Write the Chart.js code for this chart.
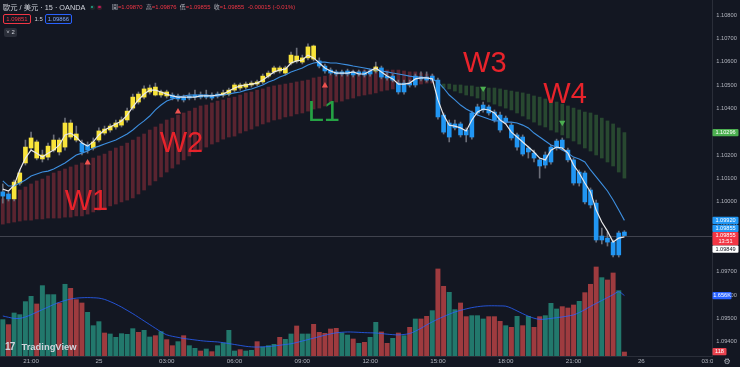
<!DOCTYPE html>
<html>
<head>
<meta charset="utf-8">
<title>歐元 / 美元 · 15 · OANDA</title>
<script src="https://cdn.jsdelivr.net/npm/chart.js"></script>
<style>
  body { margin: 0; background: #131722; }
  #wrap { position: relative; width: 740px; height: 367px; overflow: hidden;
          font-family: "Liberation Sans", "Noto Sans CJK TC", sans-serif; }
  #chart { position: absolute; left: 0; top: 0; }
  .t { position: absolute; white-space: nowrap; line-height: 1; }
  .box { position: absolute; box-sizing: border-box; border-radius: 2px; font-size: 5.9px;
         display: flex; align-items: center; justify-content: center; }
</style>
</head>
<body>
<div id="wrap">
  <canvas id="chart" width="740" height="367"></canvas>
  <div class="t" style="left:3px;top:3.5px;font-size:7.3px;color:#d1d4dc">歐元 / 美元 · 15 · OANDA</div>
  <div class="t" style="left:89.5px;top:4.5px;width:5px;height:5px;border-radius:50%;background:#1b2a2a"></div>
  <div class="t" style="left:90.7px;top:5.7px;width:2.6px;height:2.6px;border-radius:50%;background:#22ab94"></div>
  <div class="t" style="left:97px;top:4.5px;width:5px;height:5px;border-radius:50%;background:#3a1f2a"></div>
  <div class="t" style="left:98.2px;top:5.7px;width:2.6px;height:2.6px;border-radius:50%;background:#c2185b"></div>
  <div class="t" id="ohlc" style="left:112px;top:4.5px;font-size:5.9px;color:#b2b5be"></div>
  <div class="box" id="bid" style="left:3px;top:14px;width:28px;height:10px;border:1px solid #f23645;color:#f23645"></div>
  <div class="t" id="spread" style="left:34.5px;top:16.5px;font-size:5.9px;color:#d1d4dc"></div>
  <div class="box" id="ask" style="left:45px;top:14px;width:27px;height:10px;border:1px solid #2962ff;color:#7fa8ff"></div>
  <div class="box" style="left:4px;top:27.5px;width:13px;height:9px;background:#2a2e39;color:#d1d4dc">˅ 2</div>
  <div class="t" style="left:5px;top:341.5px;font-size:10px;font-weight:bold;color:#d1d4dc;letter-spacing:-0.8px">17</div>
  <div class="t" style="left:21.5px;top:342px;font-size:9.4px;font-weight:bold;color:#d1d4dc">TradingView</div>
</div>
<script>
// ---- price bars (15 min, 24 19:45 -> 25 23:15) ----
var opens = [1.10024,1.10033,1.10012,1.10080,1.10166,1.10230,1.10256,1.10183,1.10191,1.10221,
  1.10264,1.10234,1.10337,1.10290,1.10251,1.10221,1.10230,1.10264,1.10311,1.10307,
  1.10320,1.10328,1.10350,1.10401,1.10461,1.10448,1.10470,1.10491,1.10457,1.10470,
  1.10457,1.10440,1.10448,1.10444,1.10448,1.10457,1.10448,1.10457,1.10453,1.10457,
  1.10461,1.10478,1.10500,1.10491,1.10500,1.10513,1.10513,1.10538,1.10556,1.10573,
  1.10551,1.10594,1.10624,1.10598,1.10616,1.10667,1.10603,1.10581,1.10564,1.10556,
  1.10547,1.10547,1.10556,1.10547,1.10556,1.10547,1.10560,1.10573,1.10538,1.10521,
  1.10508,1.10470,1.10508,1.10500,1.10534,1.10534,1.10521,1.10521,1.10371,1.10277,
  1.10316,1.10333,1.10307,1.10277,1.10380,1.10393,1.10406,1.10384,1.10371,1.10341,
  1.10328,1.10234,1.10277,1.10213,1.10208,1.10179,1.10157,1.10170,1.10230,1.10264,
  1.10221,1.10179,1.10080,1.10123,1.10050,1.09994,1.09836,1.09844,1.09827,1.09772,
  1.09870];
var highs = [1.10076,1.10042,1.10093,1.10136,1.10264,1.10298,1.10264,1.10221,1.10251,1.10286,
  1.10273,1.10358,1.10350,1.10324,1.10264,1.10256,1.10273,1.10316,1.10324,1.10333,
  1.10350,1.10363,1.10401,1.10461,1.10470,1.10496,1.10500,1.10508,1.10478,1.10478,
  1.10466,1.10461,1.10457,1.10466,1.10478,1.10470,1.10478,1.10466,1.10470,1.10478,
  1.10487,1.10508,1.10508,1.10513,1.10517,1.10521,1.10547,1.10560,1.10581,1.10581,
  1.10581,1.10641,1.10658,1.10628,1.10676,1.10671,1.10616,1.10590,1.10573,1.10564,
  1.10564,1.10568,1.10564,1.10564,1.10564,1.10568,1.10598,1.10581,1.10556,1.10547,
  1.10521,1.10521,1.10521,1.10547,1.10556,1.10556,1.10547,1.10530,1.10380,1.10350,
  1.10350,1.10341,1.10316,1.10388,1.10418,1.10427,1.10414,1.10393,1.10384,1.10367,
  1.10337,1.10294,1.10286,1.10238,1.10221,1.10187,1.10213,1.10243,1.10268,1.10273,
  1.10230,1.10187,1.10136,1.10131,1.10059,1.10007,1.09887,1.09870,1.09836,1.09874,
  1.09876];
var lows = [1.09994,1.10003,1.10003,1.10071,1.10157,1.10221,1.10179,1.10170,1.10179,1.10213,
  1.10200,1.10221,1.10268,1.10256,1.10200,1.10208,1.10221,1.10256,1.10286,1.10298,
  1.10311,1.10320,1.10341,1.10393,1.10418,1.10440,1.10461,1.10453,1.10448,1.10444,
  1.10436,1.10431,1.10427,1.10436,1.10436,1.10440,1.10440,1.10436,1.10444,1.10448,
  1.10453,1.10470,1.10478,1.10483,1.10491,1.10496,1.10504,1.10530,1.10547,1.10551,
  1.10543,1.10586,1.10594,1.10590,1.10607,1.10603,1.10573,1.10551,1.10543,1.10538,
  1.10538,1.10538,1.10534,1.10538,1.10534,1.10538,1.10551,1.10526,1.10521,1.10513,
  1.10461,1.10461,1.10491,1.10491,1.10517,1.10513,1.10513,1.10354,1.10290,1.10256,
  1.10307,1.10277,1.10256,1.10268,1.10371,1.10384,1.10371,1.10341,1.10298,1.10333,
  1.10264,1.10221,1.10196,1.10187,1.10170,1.10101,1.10144,1.10161,1.10221,1.10221,
  1.10170,1.10071,1.10067,1.09990,1.09973,1.09827,1.09819,1.09810,1.09763,1.09763,
  1.09855];
var closes = [1.10042,1.10012,1.10084,1.10123,1.10234,1.10273,1.10187,1.10200,1.10238,1.10264,
  1.10213,1.10337,1.10277,1.10264,1.10213,1.10243,1.10256,1.10303,1.10294,1.10324,
  1.10337,1.10350,1.10388,1.10448,1.10427,1.10483,1.10487,1.10457,1.10470,1.10453,
  1.10444,1.10453,1.10436,1.10453,1.10457,1.10448,1.10457,1.10444,1.10461,1.10466,
  1.10478,1.10500,1.10487,1.10504,1.10508,1.10504,1.10538,1.10551,1.10573,1.10560,
  1.10573,1.10628,1.10603,1.10616,1.10663,1.10611,1.10581,1.10560,1.10551,1.10547,
  1.10556,1.10560,1.10543,1.10556,1.10543,1.10560,1.10577,1.10534,1.10530,1.10538,
  1.10470,1.10508,1.10500,1.10538,1.10526,1.10521,1.10538,1.10363,1.10298,1.10337,
  1.10333,1.10286,1.10286,1.10380,1.10406,1.10414,1.10380,1.10350,1.10307,1.10358,
  1.10273,1.10286,1.10204,1.10230,1.10187,1.10153,1.10200,1.10234,1.10260,1.10230,
  1.10179,1.10080,1.10127,1.09999,1.09986,1.09836,1.09853,1.09827,1.09772,1.09866,
  1.09855];
// candle tone used by the script: Y = yellow, B = blue
var tone = "BB" + "YYYYYYYYYYYY" + "BB" + "YYYYYYYYYYYYYY" + "BBBBBBBBB" +
  "YYYYYYYYYYYYYYYYY" + "BBBBBBBBBB" + "Y" + "BBBBBBBBBBBBBBBBBBBBBBBBBBBBBBBBBBBBBBBBBBBB";

var fastLine = [1.10054,1.10046,1.10071,1.10136,1.10187,1.10221,1.10208,1.10191,1.10208,1.10221,
  1.10243,1.10286,1.10294,1.10277,1.10251,1.10238,1.10256,1.10286,1.10307,1.10320,
  1.10333,1.10346,1.10371,1.10406,1.10436,1.10461,1.10478,1.10478,1.10470,1.10461,
  1.10453,1.10448,1.10448,1.10448,1.10448,1.10453,1.10453,1.10453,1.10457,1.10461,
  1.10474,1.10487,1.10496,1.10500,1.10504,1.10508,1.10521,1.10538,1.10556,1.10564,
  1.10568,1.10594,1.10603,1.10607,1.10628,1.10616,1.10594,1.10573,1.10560,1.10551,
  1.10551,1.10551,1.10556,1.10547,1.10547,1.10560,1.10573,1.10556,1.10538,1.10526,
  1.10504,1.10504,1.10508,1.10526,1.10530,1.10530,1.10526,1.10436,1.10371,1.10328,
  1.10324,1.10316,1.10303,1.10350,1.10384,1.10397,1.10393,1.10380,1.10350,1.10333,
  1.10298,1.10277,1.10256,1.10234,1.10213,1.10187,1.10179,1.10221,1.10234,1.10230,
  1.10208,1.10157,1.10123,1.10080,1.10042,1.09964,1.09913,1.09874,1.09827,1.09844,
  1.09849];
var slowLine = [1.10089,1.10067,1.10067,1.10080,1.10093,1.10110,1.10119,1.10127,1.10131,1.10140,
  1.10153,1.10166,1.10183,1.10200,1.10208,1.10217,1.10230,1.10238,1.10247,1.10256,
  1.10264,1.10277,1.10290,1.10307,1.10328,1.10346,1.10367,1.10393,1.10414,1.10431,
  1.10440,1.10448,1.10453,1.10457,1.10457,1.10457,1.10457,1.10453,1.10453,1.10457,
  1.10461,1.10466,1.10470,1.10478,1.10483,1.10491,1.10500,1.10513,1.10521,1.10534,
  1.10543,1.10556,1.10564,1.10573,1.10586,1.10594,1.10598,1.10598,1.10594,1.10594,
  1.10590,1.10586,1.10581,1.10577,1.10573,1.10568,1.10564,1.10560,1.10556,1.10551,
  1.10547,1.10543,1.10538,1.10534,1.10534,1.10530,1.10526,1.10513,1.10487,1.10457,
  1.10436,1.10414,1.10397,1.10384,1.10371,1.10363,1.10354,1.10346,1.10346,1.10341,
  1.10341,1.10337,1.10328,1.10316,1.10294,1.10277,1.10260,1.10243,1.10234,1.10221,
  1.10208,1.10191,1.10183,1.10170,1.10136,1.10106,1.10076,1.10046,1.10007,1.09964,
  1.09920];

// ribbon columns, red until ribbonFlip then green
var ribbonHi = [1.10012,1.10024,1.10037,1.10050,1.10063,1.10076,1.10089,1.10097,1.10110,1.10123,
  1.10131,1.10140,1.10149,1.10157,1.10166,1.10174,1.10187,1.10196,1.10204,1.10217,
  1.10230,1.10238,1.10251,1.10264,1.10277,1.10290,1.10307,1.10320,1.10333,1.10350,
  1.10358,1.10371,1.10380,1.10388,1.10401,1.10410,1.10414,1.10423,1.10431,1.10436,
  1.10444,1.10448,1.10457,1.10466,1.10470,1.10478,1.10483,1.10491,1.10496,1.10500,
  1.10504,1.10508,1.10513,1.10517,1.10521,1.10530,1.10534,1.10538,1.10543,1.10547,
  1.10551,1.10556,1.10560,1.10560,1.10564,1.10564,1.10564,1.10564,1.10564,1.10564,
  1.10564,1.10560,1.10556,1.10556,1.10551,1.10547,1.10543,1.10504,1.10504,1.10504,
  1.10500,1.10500,1.10496,1.10496,1.10491,1.10491,1.10487,1.10487,1.10483,1.10478,
  1.10474,1.10470,1.10466,1.10461,1.10453,1.10448,1.10440,1.10431,1.10427,1.10418,
  1.10410,1.10401,1.10393,1.10384,1.10380,1.10371,1.10358,1.10346,1.10333,1.10316,
  1.10296];
var ribbonLo = [1.09904,1.09909,1.09913,1.09917,1.09921,1.09921,1.09926,1.09926,1.09930,1.09930,
  1.09930,1.09934,1.09934,1.09939,1.09939,1.09947,1.09956,1.09964,1.09973,1.09982,
  1.09990,1.09999,1.10007,1.10016,1.10033,1.10050,1.10071,1.10089,1.10106,1.10127,
  1.10144,1.10161,1.10179,1.10196,1.10213,1.10221,1.10234,1.10247,1.10256,1.10268,
  1.10277,1.10281,1.10294,1.10303,1.10311,1.10324,1.10333,1.10341,1.10350,1.10354,
  1.10363,1.10367,1.10376,1.10380,1.10388,1.10397,1.10401,1.10410,1.10418,1.10427,
  1.10431,1.10440,1.10444,1.10453,1.10457,1.10461,1.10466,1.10474,1.10478,1.10483,
  1.10491,1.10496,1.10500,1.10500,1.10504,1.10508,1.10508,1.10496,1.10487,1.10483,
  1.10474,1.10466,1.10457,1.10453,1.10444,1.10436,1.10427,1.10418,1.10410,1.10401,
  1.10393,1.10380,1.10367,1.10354,1.10341,1.10328,1.10320,1.10307,1.10298,1.10286,
  1.10273,1.10260,1.10247,1.10230,1.10217,1.10200,1.10187,1.10170,1.10153,1.10127,
  1.10101];
var ribbonFlip = 77;

// volume and its average
var volumes = [1005,868,1187,1142,1498,1644,1434,1936,1690,1690,
  1461,1973,1863,1553,1461,1205,840,950,639,612,
  521,621,603,758,658,712,530,566,676,457,
  292,402,566,292,219,146,201,128,292,365,
  712,146,183,146,164,402,256,292,329,521,
  466,612,831,612,612,877,658,630,749,767,
  640,584,475,356,384,521,932,667,356,493,
  639,566,795,1023,1023,1096,1251,2393,1918,1753,
  1279,1461,1087,1114,1114,1023,1087,1087,959,840,
  795,1096,840,1096,795,1087,1114,1452,1297,1361,
  1324,1406,1507,1744,1973,2447,2155,2091,2283,1799,
  118];
var volAvg = [1096,1060,1030,1030,1070,1130,1200,1270,1340,1410,
  1470,1520,1560,1585,1595,1600,1595,1585,1550,1490,
  1420,1340,1250,1160,1060,960,860,760,660,580,
  540,510,480,460,440,420,405,395,385,365,
  340,315,290,265,250,245,250,260,275,295,
  315,335,370,410,450,490,530,570,605,635,
  650,658,655,648,640,635,630,615,598,585,
  578,590,615,680,760,850,935,1010,1080,1145,
  1205,1250,1290,1325,1350,1368,1375,1375,1372,1365,
  1310,1235,1160,1090,1035,1005,1010,1030,1050,1070,
  1095,1125,1190,1270,1360,1440,1520,1600,1680,1760,
  1656];

// signal triangles and wave labels
var markBar   = [15, 31, 57, 66, 85, 99];
var markPrice = [1.10167, 1.10386, 1.10497, 1.10571, 1.10485, 1.10339];
var markUp    = [true, true, true, true, false, false];
var markColor = ['#f05350', '#f05350', '#f05350', '#e8c547', '#4caf50', '#4caf50'];
var markSize  = [3.6, 3.6, 3.6, 2.6, 3.6, 3.6];

var waveText  = ['W1', 'W2', 'L1', 'W3', 'W4'];
var waveBar   = [14.8, 31.6, 56.8, 85.3, 99.5];
var wavePrice = [1.09964, 1.10214, 1.10347, 1.10556, 1.10423];
var waveColor = ['#e8232b', '#e8232b', '#25a244', '#e8232b', '#e8232b'];

// axes
var slotCount = 126;
var timeTicks = {5: '21:00', 17: '25', 29: '03:00', 41: '06:00', 53: '09:00', 65: '12:00',
                 77: '15:00', 89: '18:00', 101: '21:00', 113: '26', 125: '03:00'};
var priceTicks = [1.094, 1.095, 1.096, 1.097, 1.098, 1.099, 1.100, 1.101, 1.102,
                  1.103, 1.104, 1.105, 1.106, 1.107, 1.108];
var priceMin = 1.09339, priceMax = 1.10864;
var volMax = 9750;

var bid = 1.09851, ask = 1.09866, spread = '1.5';
var otherTag = 1.09855;
var countdown = '13:51';

var BG = '#131722';
var TXT = '#b2b5be';
var last = closes.length - 1;

// header text
var chg = closes[last] - opens[last];
var pct = chg / opens[last] * 100;
var red = '#f23645';
function v(x) { return '<span style="color:' + red + '">' + x + '</span>'; }
document.getElementById('ohlc').innerHTML =
  '開' + v('=' + opens[last].toFixed(5)) + '&nbsp; 高' + v('=' + highs[last].toFixed(5)) +
  '&nbsp; 低' + v('=' + lows[last].toFixed(5)) + '&nbsp; 收' + v('=' + closes[last].toFixed(5)) +
  '&nbsp; ' + v(chg.toFixed(5) + ' (' + pct.toFixed(2) + '%)');
document.getElementById('bid').textContent = bid.toFixed(5);
document.getElementById('ask').textContent = ask.toFixed(5);
document.getElementById('spread').textContent = spread;

var labels = [];
for (var i = 0; i < slotCount; i++) labels.push(i);

var bodyColors = tone.split('').map(function (t) { return t === 'Y' ? '#f9e43a' : '#2196f3'; });
var ribbonColors = ribbonHi.map(function (_, i) {
  return i < ribbonFlip ? 'rgba(150,48,60,0.55)' : 'rgba(70,140,70,0.42)';
});
var volColors = opens.map(function (o, i) { return closes[i] >= o ? '#22786c' : '#9e3b3f'; });

var markData = [], markRot = [], markCol = [], markRad = [];
for (var i = 0; i < closes.length; i++) { markData.push(null); markRot.push(0); markCol.push('#fff'); markRad.push(0); }
markBar.forEach(function (b, k) {
  markData[b] = markPrice[k];
  markRot[b] = markUp[k] ? 0 : 180;
  markCol[b] = markColor[k];
  markRad[b] = markSize[k];
});

var overlay = {
  id: 'overlay',
  beforeDatasetsDraw: function (chart) {
    var ctx = chart.ctx, a = chart.chartArea;
    var yy = Math.round(chart.scales.y.getPixelForValue(closes[last])) + 0.5;
    ctx.save();
    ctx.strokeStyle = 'rgba(120,123,134,0.45)';
    ctx.lineWidth = 1;
    ctx.beginPath(); ctx.moveTo(a.left, yy); ctx.lineTo(a.right, yy); ctx.stroke();
    ctx.restore();
  },
  afterDatasetsDraw: function (chart) {
    var ctx = chart.ctx, x = chart.scales.x, y = chart.scales.y;
    ctx.save();
    ctx.font = '29px "Liberation Sans", Arial, sans-serif';
    ctx.textAlign = 'center';
    ctx.textBaseline = 'alphabetic';
    waveText.forEach(function (t, k) {
      ctx.fillStyle = waveColor[k];
      ctx.fillText(t, x.getPixelForValue(waveBar[k]), y.getPixelForValue(wavePrice[k]));
    });
    ctx.restore();
  },
  afterDraw: function (chart) {
    var ctx = chart.ctx, a = chart.chartArea, y = chart.scales.y, y2 = chart.scales.y2;
    ctx.save();
    ctx.fillStyle = BG;
    ctx.fillRect(a.right + 1, a.bottom + 1, 40, 20);
    ctx.fillStyle = TXT;
    ctx.font = '8px "DejaVu Sans"';
    ctx.textAlign = 'center';
    ctx.textBaseline = 'middle';
    ctx.fillText('⚙', 727, a.bottom + 5.5);

    var x0 = a.right + 0.5;
    function tag(top, w, h, bg, fg, lines) {
      ctx.fillStyle = bg;
      ctx.beginPath(); ctx.roundRect(x0, top, w, h, 1); ctx.fill();
      ctx.fillStyle = fg;
      ctx.font = '5.6px "Liberation Sans", sans-serif';
      ctx.textAlign = 'center';
      ctx.textBaseline = 'middle';
      lines.forEach(function (t, k) { ctx.fillText(t, x0 + w / 2, top + 3.6 + k * 6.4); });
    }
    var h = 7.2;
    tag(y.getPixelForValue(ribbonHi[last]) - h / 2, 26, h, '#4caf50', '#fff', [ribbonHi[last].toFixed(5)]);
    var redTop = y.getPixelForValue(closes[last]) - h / 2;
    tag(redTop, 26, 13.6, red, '#fff', [closes[last].toFixed(5), countdown]);
    var b2Top = redTop - h;
    tag(b2Top, 26, h, '#2196f3', '#fff', [otherTag.toFixed(5)]);
    var b1Top = Math.min(y.getPixelForValue(slowLine[last]) - h / 2, b2Top - h);
    tag(b1Top, 26, h, '#2196f3', '#fff', [slowLine[last].toFixed(5)]);
    tag(redTop + 13.6, 26, h, '#ffffff', '#131722', [fastLine[last].toFixed(5)]);
    tag(y2.getPixelForValue(volAvg[last]) - h / 2, 19, h, '#2962ff', '#fff', [(volAvg[last] / 1000).toFixed(3) + 'K']);
    tag(y2.getPixelForValue(volumes[last]) - h / 2, 14, h, '#e9424e', '#fff', [String(volumes[last])]);
    ctx.restore();
  }
};

var ctx = document.getElementById('chart').getContext('2d');
var chart = new Chart(ctx, {
  type: 'bar',
  data: {
    labels: labels,
    datasets: [{
      type: 'line', label: 'fast', data: fastLine, yAxisID: 'y',
      borderColor: '#e8e8ea', borderWidth: 1.2, pointRadius: 0, tension: 0, order: 0
    }, {
      type: 'line', label: 'signals', data: markData, yAxisID: 'y', showLine: false,
      pointStyle: 'triangle', pointRadius: markRad, pointRotation: markRot,
      pointBackgroundColor: markCol, pointBorderWidth: 0, order: 0
    }, {
      type: 'line', label: 'slow', data: slowLine, yAxisID: 'y',
      borderColor: '#3d8fe0', borderWidth: 1.1, pointRadius: 0, tension: 0, order: 1
    }, {
      label: 'bodies', yAxisID: 'y',
      data: opens.map(function (o, i) { return [o, closes[i]]; }),
      backgroundColor: bodyColors, barThickness: 4, minBarLength: 1, grouped: false, order: 2
    }, {
      label: 'wicks', yAxisID: 'y',
      data: lows.map(function (l, i) { return [l, highs[i]]; }),
      backgroundColor: '#6b6e79', barThickness: 1, grouped: false, order: 3
    }, {
      label: 'ribbon', yAxisID: 'y',
      data: ribbonLo.map(function (l, i) { return [l, ribbonHi[i]]; }),
      backgroundColor: ribbonColors, barThickness: 3, grouped: false, order: 4
    }, {
      type: 'line', label: 'vol avg', data: volAvg, yAxisID: 'y2',
      borderColor: 'rgba(41,98,255,0.8)', borderWidth: 1, pointRadius: 0, tension: 0.3, order: 5
    }, {
      label: 'volume', data: volumes, yAxisID: 'y2',
      backgroundColor: volColors, barPercentage: 0.88, categoryPercentage: 1, grouped: false, order: 6
    }]
  },
  options: {
    responsive: false,
    animation: false,
    devicePixelRatio: 1,
    layout: { padding: 0 },
    plugins: { legend: { display: false }, tooltip: { enabled: false } },
    scales: {
      x: {
        type: 'category',
        offset: true,
        grid: { display: false, drawTicks: false },
        border: { display: true, color: '#2a2e39' },
        ticks: {
          autoSkip: false, maxRotation: 0, padding: 2, color: TXT,
          font: { size: 6.2, family: 'Liberation Sans' },
          callback: function (val, idx) { return timeTicks[idx] || ''; }
        },
        afterFit: function (s) { s.height = 11; s.paddingLeft = 0; s.paddingRight = 0; }
      },
      y: {
        position: 'right',
        min: priceMin, max: priceMax,
        grid: { display: false, drawTicks: false },
        border: { display: true, color: '#2a2e39' },
        ticks: {
          padding: 4.3, color: TXT, autoSkip: false,
          font: { size: 5.7, family: 'Liberation Sans' },
          callback: function (val) { return Number(val).toFixed(5); }
        },
        afterBuildTicks: function (s) { s.ticks = priceTicks.map(function (p) { return { value: p }; }); },
        afterFit: function (s) { s.width = 28; s.paddingTop = 0; s.paddingBottom = 0; }
      },
      y2: { display: false, min: 0, max: volMax }
    }
  },
  plugins: [overlay]
});
</script>
</body>
</html>
